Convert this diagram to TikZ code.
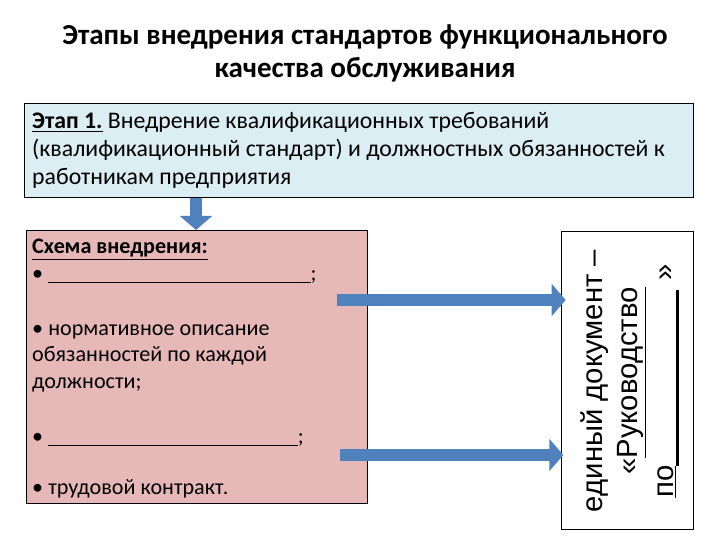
\documentclass[tikz,border=0pt]{standalone}
\usepackage{fontspec}
\setmainfont{Carlito}
\newfontfamily\arialfont{Liberation Sans}
\usetikzlibrary{arrows.meta}
\definecolor{stageblue}{HTML}{DBEEF4}
\definecolor{schemepink}{HTML}{E6B9B8}
\definecolor{arrowblue}{HTML}{4F81BD}
\newcommand{\blankfill}[1]{\underline{\hspace{#1}}}
\tikzset{
  panel/.style={draw=black, line width=0.6pt, anchor=north west, inner sep=0pt},
  blockarrow/.style={arrowblue, line width=11pt, -{Triangle[length=12pt,width=27pt]}},
}
\begin{document}
\begin{tikzpicture}[x=0.03cm,y=-0.03cm]
	\useasboundingbox[fill=white] (0,0) rectangle (720,540);
	% title
	\node[font=\bfseries\fontsize{24.8}{28}\selectfont, align=center] (title) at (365,53.5) {Этапы внедрения стандартов функционального\\качества обслуживания};
	% boxes
	\node[panel, fill=stageblue, minimum width=20.07cm, minimum height=2.82cm] (stage) at (24,103) {};
	\node[panel, fill=schemepink, minimum width=10.23cm, minimum height=8.19cm] (scheme) at (26,230) {};
	\node[panel, fill=white, minimum width=3.96cm, minimum height=8.94cm] (guide) at (561,231) {};
	% texts
	\node[anchor=north west, inner sep=0pt, align=left, font=\fontsize{20.3}{23.9}\selectfont] (stagetxt) at (32,112.5) {\textbf{\underline{Этап 1.}} Внедрение квалификационных требований\\(квалификационный стандарт) и должностных обязанностей к\\работникам предприятия};
	\node[anchor=north west, inner sep=0pt, align=left, font=\fontsize{18.9}{22.6}\selectfont] (schemetxt) at (32,239) {\textbf{\underline{Схема внедрения:}}\\
		• \blankfill{224pt};\\[24.5pt]
		• нормативное описание\\обязанностей по каждой\\должности;\\[24.5pt]
		• \blankfill{213pt};\\[20.5pt]
		• трудовой контракт.};
	\node[rotate=90, align=center, font=\arialfont\fontsize{25}{30}\selectfont] (guidetxt) at (630,381) {единый документ –\\«\underline{Руководство}\\\underline{по}\rule[-5pt]{150pt}{2.5pt}\hspace{8pt}»};
	% arrows
	\coordinate (a1) at (337,300);
	\coordinate (a2) at (340,455);
	\draw[blockarrow] (stage.south -| 196,0) -- (scheme.north -| 196,0);
	\draw[blockarrow] (a1) -- ([xshift=4pt]a1 -| guide.west);
	\draw[blockarrow] (a2) -- ([xshift=2pt]a2 -| guide.west);
\end{tikzpicture}
\end{document}
